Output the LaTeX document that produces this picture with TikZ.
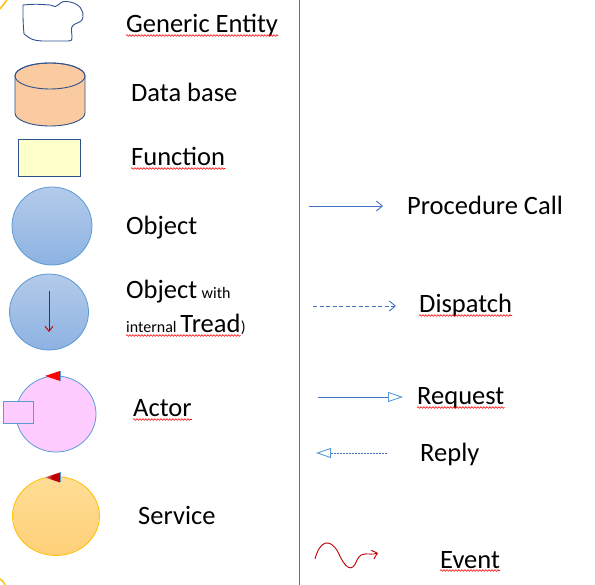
\documentclass[tikz,border=0pt]{standalone}
\usepackage{fontspec}
\setmainfont{Carlito}
\usepackage{tikz}
\usetikzlibrary{arrows.meta,shapes.geometric,decorations.pathmorphing}
\definecolor{darkline}{RGB}{47,82,143}
\definecolor{blueline}{RGB}{68,114,196}
\definecolor{lightline}{RGB}{91,155,213}
\definecolor{peach}{RGB}{250,203,160}
\definecolor{paleyellow}{RGB}{255,255,204}
\definecolor{objtop}{RGB}{180,203,234}
\definecolor{objbot}{RGB}{141,178,226}
\definecolor{pink}{RGB}{255,204,255}
\definecolor{orangetop}{RGB}{255,221,150}
\definecolor{orangebot}{RGB}{255,208,120}
\definecolor{gold}{RGB}{255,192,0}
\definecolor{darkred}{RGB}{192,0,0}
\tikzstyle{lbl}=[anchor=base west,inner sep=0pt,font=\fontsize{26.5}{30}\selectfont]
\tikzstyle{small}=[anchor=base west,inner sep=0pt,font=\fontsize{16}{18}\selectfont]
\tikzstyle{spell}=[draw=red,line width=0.6pt,decorate,decoration={snake,amplitude=0.8pt,segment length=3pt}]

\begin{document}
\begin{tikzpicture}[x=1pt,y=-1pt]
        \tikzset{call/.style = {draw=blueline,line width=0.9pt,-{Straight Barb[length=6pt,width=10pt,line width=0.9pt]}},
                 msg/.style = {draw=blueline,line width=0.8pt,-{Triangle[open,length=15pt,width=10pt,line width=0.9pt,color=lightline]}}}
        \useasboundingbox (0,0) rectangle (595,585);
        \draw[blueline,line width=1pt] (299,0) -- (299,585);
        \draw[gold,line width=1.5pt] (0,9) .. controls (3,5) .. (7,0);
        \draw[gold,line width=1.5pt] (0,579) .. controls (3,581) .. (5,585);
        \draw[darkline,line width=0.9pt] (23,5) .. controls (35,4) .. (50,5) .. controls (56,7) .. (58,5) .. controls (63,1) .. (70,2) .. controls (80,4) and (84,11) .. (83,17) .. controls (82,21) .. (75,24) .. controls (71,27) .. (72,36) .. controls (72,41) .. (65,41) -- (42,41) .. controls (32,40) .. (24,34) .. controls (23,22) .. (23,5) -- cycle;
        \coordinate (db) at (50,76);
        \filldraw[draw=darkline,line width=0.9pt,fill=peach] (15,76) -- (15,113) arc[start angle=180,end angle=0,x radius=35,y radius=13] -- (85,76) arc[start angle=0,end angle=-180,x radius=35,y radius=13] -- cycle;
        \draw[darkline,line width=0.9pt] (db) ellipse[x radius=35,y radius=13];
        \node[draw=darkline,line width=0.9pt,fill=paleyellow,minimum width=62pt,minimum height=37pt,inner sep=0pt] (fn) at (49,157.5) {};
        \node[ellipse,draw=lightline,line width=0.8pt,top color=objtop,bottom color=objbot,minimum width=80pt,minimum height=78pt,inner sep=0pt] (obj) at (52,226) {};
        \node[ellipse,draw=lightline,line width=0.8pt,top color=objtop,bottom color=objbot,minimum width=79pt,minimum height=76pt,inner sep=0pt] (objt) at (49,312) {};
        \coordinate (tr1) at (49,291);
        \coordinate (tr2) at (49,332);
        \draw[darkred,line width=0.9pt,-{Straight Barb[length=5pt,width=8pt,line width=0.9pt]}] (tr1) -- (tr2);
        \node[ellipse,draw=lightline,line width=0.8pt,fill=pink,minimum width=80pt,minimum height=76pt,inner sep=0pt] (act) at (56,414) {};
        \node[draw=lightline,line width=0.8pt,fill=pink,minimum width=30pt,minimum height=22pt,inner sep=0pt] (box) at (18,412) {};
        \fill[red] (45,376) -- (60,371) -- (60,381) -- cycle;
        \draw[lightline,line width=1pt] (60,371) -- (60,381);
        \node[ellipse,draw=gold,line width=0.8pt,top color=orangetop,bottom color=orangebot,minimum width=87pt,minimum height=79pt,inner sep=0pt] (srv) at (56,516) {};
        \shade[left color=darkred!50,right color=darkred,middle color=darkred] (45,477.5) -- (60,472.5) -- (60,482.5) -- cycle;
        \draw[lightline,line width=1pt] (60,472.5) -- (60,482.5);
        \node[lbl] (ge) at (126,33) {Generic Entity};
        \node[lbl] (dbl) at (131,102) {Data base};
        \node[lbl] (fnl) at (131,166) {Function};
        \node[lbl] (objl) at (126,235) {Object};
        \node[lbl] (objtl) at (126,299) {Object};
        \node[small] (with) at ([xshift=4pt]objtl.base east) {with};
        \node[small] (intl) at (126,333) {internal};
        \node[lbl] (tread) at ([xshift=3.5pt]intl.base east) {Tread};
        \node[small] (par) at (tread.base east) {)};
        \node[lbl] (actl) at (133,417) {Actor};
        \node[lbl] (srvl) at (138,524) {Service};
        \coordinate (pc1) at (309,206);
        \coordinate (pc2) at (383,206);
        \draw[call] (pc1) -- (pc2);
        \node[lbl] (pcl) at (407,215) {Procedure Call};
        \coordinate (dp1) at (313,306);
        \coordinate (dp2) at (396,306);
        \draw[call,dash pattern=on 4pt off 2.5pt] (dp1) -- (dp2);
        \node[lbl] (dpl) at (419,313) {Dispatch};
        \coordinate (rq1) at (318,397);
        \coordinate (rq2) at (403,397);
        \draw[msg] (rq1) -- (rq2);
        \node[lbl] (rql) at (417,405) {Request};
        \coordinate (rp1) at (387,453);
        \coordinate (rp2) at (316,453);
        \draw[msg,dash pattern=on 2pt off 1pt] (rp1) -- (rp2);
        \node[lbl] (rpl) at (420,462) {Reply};
        \coordinate (ev1) at (315,559);
        \coordinate (ev2) at (378,553);
        \draw[darkred,line width=0.9pt,-{Straight Barb[length=5pt,width=9pt,line width=0.9pt]}] (ev1) .. controls (320,540) and (330,538) .. (338,552) .. controls (345,568) and (352,574) .. (357,560) .. controls (362,550) and (368,556) .. (ev2);
        \node[lbl] (evl) at (440,568) {Event};
        \draw[spell] ([yshift=-2.5pt]ge.base west) -- ([yshift=-2.5pt]ge.base east);
        \draw[spell] ([yshift=-2.5pt]fnl.base west) -- ([yshift=-2.5pt]fnl.base east);
        \draw[spell] ([yshift=-2.5pt]intl.base west) -- ([yshift=-2.5pt]tread.base east);
        \draw[spell] ([yshift=-2.5pt]actl.base west) -- ([yshift=-2.5pt]actl.base east);
        \draw[spell] ([yshift=-2.5pt]dpl.base west) -- ([yshift=-2.5pt]dpl.base east);
        \draw[spell] ([yshift=-2.5pt]rql.base west) -- ([yshift=-2.5pt]rql.base east);
        \draw[spell] ([yshift=-2.5pt]evl.base west) -- ([yshift=-2.5pt]evl.base east);
      \end{tikzpicture}
\end{document}
